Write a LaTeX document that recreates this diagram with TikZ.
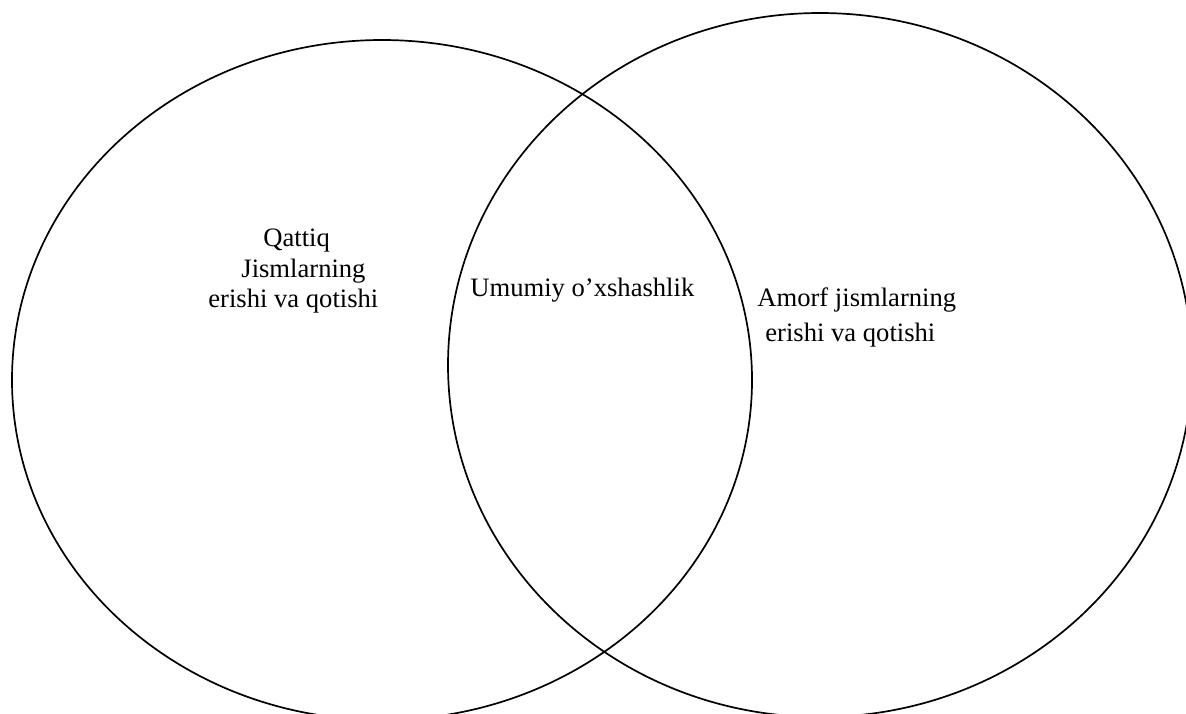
\documentclass[tikz,border=0pt]{standalone}
\usepackage{fontspec}
\setmainfont{Liberation Serif}
\begin{document}
\begin{tikzpicture}[x=0.5pt,y=-0.5pt,
  ring/.style={draw=black,line width=0.85pt},
  lbl/.style={inner sep=0pt,anchor=base west,font=\fontsize{13.3pt}{16pt}\selectfont}]
\useasboundingbox (0,0) rectangle (1186,713);
% two overlapping sets
\draw[ring] (382,380) ellipse [x radius=370, y radius=340];
\draw[ring] (820,365) ellipse [x radius=372, y radius=352];
% left set
\node[lbl] (q1) at (263,246) {Qattiq};
\node[lbl] (q2) at (241,277) {Jismlarning};
\node[lbl] (q3) at (208,307) {erishi va qotishi};
% overlap
\node[lbl] (u1) at (470,296) {Umumiy o’xshashlik};
% right set
\node[lbl] (a1) at (757,306) {Amorf jismlarning};
\node[lbl] (a2) at (765,341) {erishi va qotishi};
\end{tikzpicture}
\end{document}
